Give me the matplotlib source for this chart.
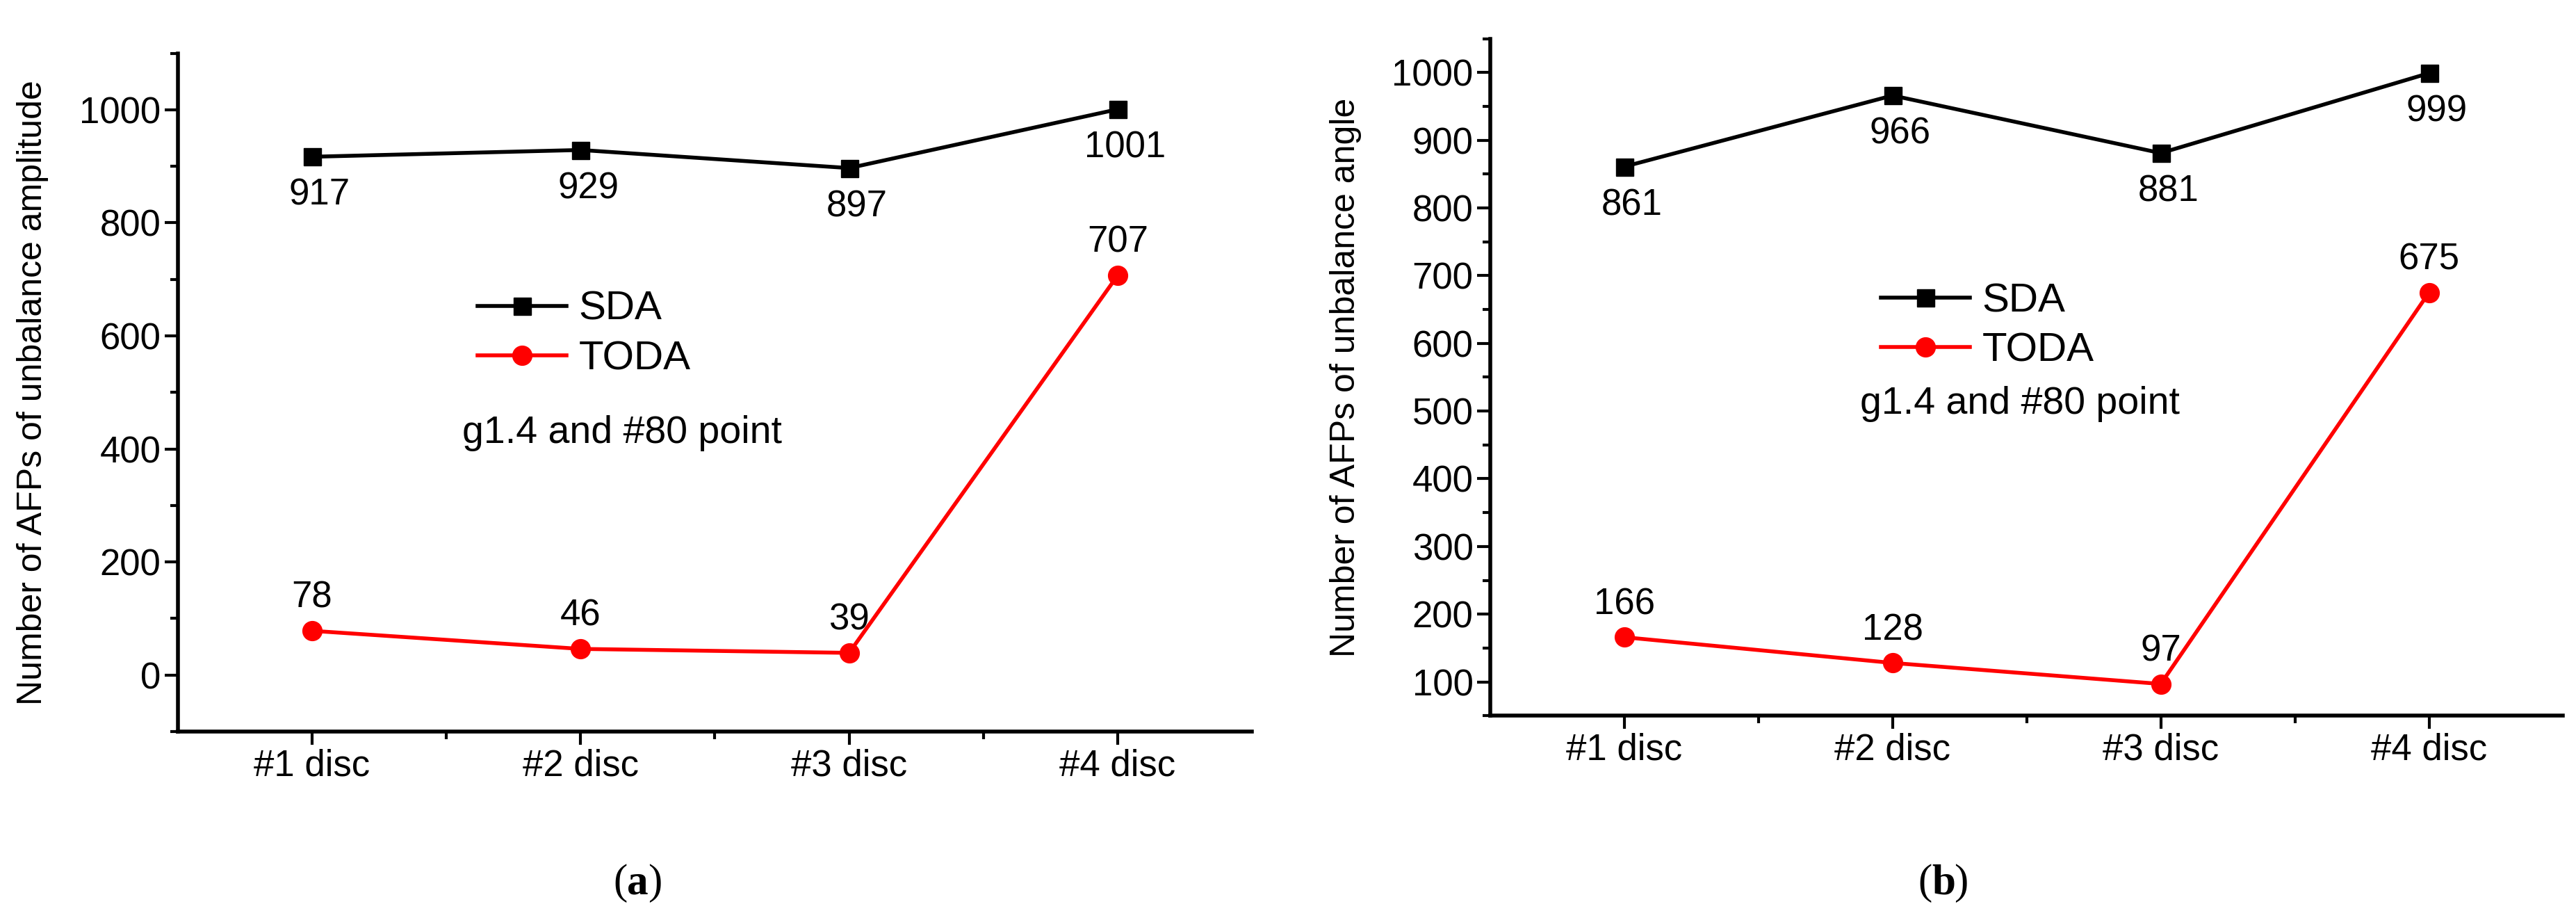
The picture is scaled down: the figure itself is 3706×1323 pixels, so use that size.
import matplotlib.pyplot as plt
from matplotlib.ticker import MultipleLocator, FixedLocator

plt.rcParams['font.family'] = ['Liberation Sans Narrow', 'Liberation Sans', 'DejaVu Sans']

discs = ['#1 disc', '#2 disc', '#3 disc', '#4 disc']
sda_amp = [917, 929, 897, 1001]
toda_amp = [78, 46, 39, 707]
sda_ang = [861, 966, 881, 999]
toda_ang = [166, 128, 97, 675]

fig = plt.figure(figsize=(37.06, 13.23), dpi=100)
ax1 = fig.add_axes([0.069, 0.205, 0.417, 0.737])
ax2 = fig.add_axes([0.5785, 0.222, 0.4165, 0.736])

x = [1, 2, 3, 4]


def draw(ax, sda, toda, ylim, major, ylabel, leg_pos, note_pos):
    ax.plot(x, sda, '-s', color='black', lw=4, ms=18, label='SDA')
    ax.plot(x, toda, '-o', color='red', lw=4, ms=20, label='TODA')
    for xi, v in zip(x, sda):
        ax.annotate(str(v), (xi, v), xytext=(8, -22), textcoords='offset points',
                    ha='center', va='top', fontsize=38)
    for xi, v in zip(x, toda):
        ax.annotate(str(v), (xi, v), xytext=(0, 16), textcoords='offset points',
                    ha='center', va='bottom', fontsize=38)
    ax.set_xlim(0.5, 4.5)
    ax.set_ylim(*ylim)
    ax.set_xticks(x)
    ax.set_xticklabels(discs)
    ax.xaxis.set_minor_locator(FixedLocator([1.5, 2.5, 3.5]))
    ax.yaxis.set_major_locator(MultipleLocator(major))
    ax.yaxis.set_minor_locator(MultipleLocator(major / 2))
    ax.tick_params(which='both', direction='out', width=3, labelsize=38)
    ax.tick_params(which='major', length=14)
    ax.tick_params(which='minor', length=8)
    for s in ['top', 'right']:
        ax.spines[s].set_visible(False)
    for s in ['left', 'bottom']:
        ax.spines[s].set_linewidth(4)
    ax.set_ylabel(ylabel, family='Liberation Sans', fontsize=36, labelpad=4)
    ax.legend(loc='upper left', bbox_to_anchor=leg_pos, frameon=False, fontsize=42,
              handlelength=2.2, handletextpad=0.3, labelspacing=0.3, borderpad=0)
    ax.text(note_pos[0], note_pos[1], 'g1.4 and #80 point', transform=ax.transAxes,
            fontsize=40, ha='left', va='center')


draw(ax1, sda_amp, toda_amp, (-100, 1100), 200,
     'Number of AFPs of unbalance amplitude', (0.26, 0.68), (0.265, 0.44))
draw(ax2, sda_ang, toda_ang, (50, 1050), 100,
     'Number of AFPs of unbalance angle', (0.345, 0.67), (0.345, 0.46))
ax1.yaxis.set_label_coords(-0.12, 0.5)
ax2.yaxis.set_label_coords(-0.12, 0.5)

fig.text(0.2435, 0.04, '(', family='Liberation Serif', fontsize=44, ha='right', va='center')
fig.text(0.2435, 0.04, 'a', family='Liberation Serif', fontsize=44, weight='bold', ha='left', va='center')
fig.text(0.2515, 0.04, ')', family='Liberation Serif', fontsize=44, ha='left', va='center')
fig.text(0.75, 0.04, '(', family='Liberation Serif', fontsize=44, ha='right', va='center')
fig.text(0.75, 0.04, 'b', family='Liberation Serif', fontsize=44, weight='bold', ha='left', va='center')
fig.text(0.7585, 0.04, ')', family='Liberation Serif', fontsize=44, ha='left', va='center')

fig.savefig('out.png', dpi=100)
